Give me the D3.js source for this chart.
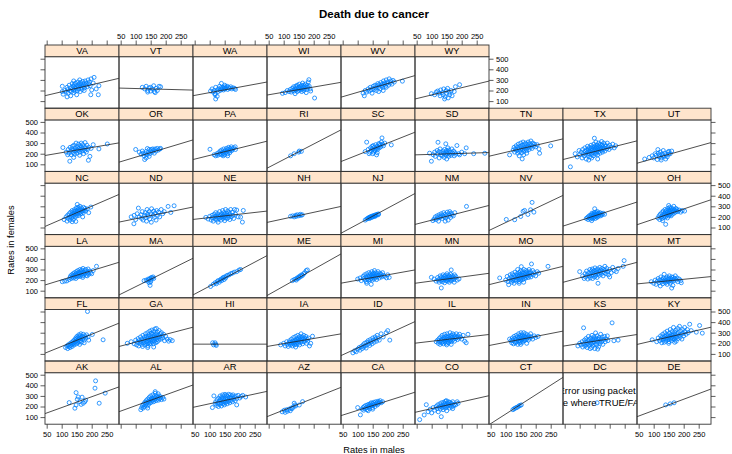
<!DOCTYPE html>
<html>
<head>
<meta charset="utf-8">
<script src="https://cdn.jsdelivr.net/npm/d3@7"></script>
<style>
  body { margin: 0; background: #fff; }
  text { font-family: "Liberation Sans", Arial, Helvetica, sans-serif; }
</style>
</head>
<body>
<svg id="chart" width="732" height="454"></svg>
<script>
// County cancer death rates (per 100,000): [rate in males, rate in females]
const AK = [[125,237],[144,184],[148,214],[148,331],[152,268],[155,290],[160,245],[165,220],[168,288],[172,231],[177,245],[180,260],[211,373],[213,442],[225,231],[245,326]];
const AL = [[117,170],[120,190],[123,210],[125,185],[127,225],[129,200],[131,240],[133,215],[135,255],[136,230],[138,205],[140,270],[141,245],[143,220],[145,285],[146,255],[148,235],[150,300],[151,265],[152,240],[154,280],[155,255],[157,310],[158,270],[160,245],[161,290],[163,265],[165,325],[166,280],[168,255],[170,300],[172,270],[174,285],[176,260],[178,300],[180,275],[183,290],[186,265],[190,285],[194,270],[165,340],[175,320],[140,185]];
const AR = [[109,190],[114,300],[118,225],[120,245],[123,210],[125,265],[127,230],[129,200],[130,280],[132,250],[133,220],[135,300],[136,265],[138,235],[139,205],[140,285],[141,255],[143,310],[144,225],[145,270],[146,245],[148,300],[149,215],[150,260],[151,315],[152,235],[154,280],[155,250],[156,305],[158,225],[159,270],[160,295],[161,245],[163,315],[164,260],[166,285],[167,235],[169,310],[170,255],[172,280],[174,300],[176,245],[178,310],[180,270],[182,290],[185,255],[188,300],[190,275],[195,305],[200,280],[205,295],[210,305],[220,290],[190,215]];
const AZ = [[95,150],[102,165],[105,145],[110,170],[112,155],[118,175],[122,160],[125,185],[128,180],[132,195],[135,231],[138,215],[140,205],[152,214],[163,246]];
const CA = [[100,190],[109,121],[115,175],[118,190],[120,165],[122,200],[125,180],[127,210],[129,190],[131,170],[133,215],[135,195],[137,220],[139,200],[140,180],[142,225],[144,205],[145,235],[147,210],[149,190],[150,230],[152,215],[154,240],[156,220],[158,200],[160,245],[162,225],[164,235],[166,215],[168,250],[170,230],[172,240],[175,255],[178,235],[183,245],[150,175],[135,160]];
const CO = [[60,76],[75,120],[82,217],[88,150],[95,175],[100,140],[105,190],[110,165],[115,200],[118,180],[120,215],[122,150],[125,195],[127,225],[129,175],[130,205],[132,104],[133,235],[135,190],[137,215],[138,170],[140,240],[141,200],[143,225],[145,185],[146,250],[147,210],[149,255],[150,195],[152,230],[154,205],[155,245],[157,220],[159,185],[160,240],[162,210],[164,230],[166,195],[168,225],[170,245],[173,205],[176,220],[180,215],[185,245],[188,230],[170,180],[150,160]];
const CT = [[124,170],[128,178],[132,185],[136,190],[140,195],[144,205],[148,210],[152,215]];
const DC = [[158,235]];
const DE = [[140,215],[155,225],[168,235]];
const FL = [[113,160],[118,175],[120,150],[122,185],[125,170],[127,195],[128,160],[130,180],[132,205],[134,190],[135,170],[137,215],[138,195],[140,225],[141,205],[142,185],[144,235],[145,210],[147,250],[148,220],[149,195],[150,240],[151,265],[152,225],[154,205],[155,255],[156,235],[157,280],[158,215],[160,245],[161,270],[162,225],[164,290],[165,250],[166,210],[168,265],[170,240],[172,285],[173,255],[175,230],[177,270],[180,250],[183,280],[186,500],[188,260],[190,230],[202,283],[238,233],[160,190],[175,205]];
const GA = [[72,200],[85,215],[95,195],[100,230],[103,185],[106,210],[108,245],[110,175],[112,225],[114,200],[116,260],[118,215],[120,190],[121,240],[123,170],[124,275],[126,225],[127,205],[129,255],[130,185],[131,235],[133,290],[134,215],[135,265],[137,195],[138,245],[139,225],[140,300],[141,175],[142,260],[143,210],[144,280],[145,235],[146,195],[147,315],[148,250],[149,220],[150,270],[151,200],[152,295],[153,240],[154,325],[155,215],[156,260],[157,285],[158,230],[159,195],[160,310],[161,250],[162,270],[163,220],[164,335],[165,245],[166,290],[167,205],[168,260],[169,340],[170,235],[171,280],[172,215],[173,305],[174,255],[176,275],[177,230],[178,320],[180,260],[182,290],[184,240],[186,300],[188,270],[190,250],[193,285],[196,225],[200,265],[205,240],[210,220],[215,235],[222,225],[140,160],[160,165]];
const HI = [[110,205],[113,185],[118,205],[120,190],[122,180]];
const IA = [[90,185],[100,200],[105,175],[110,215],[112,190],[115,170],[118,205],[120,225],[122,185],[124,210],[126,240],[127,195],[129,175],[130,220],[132,200],[133,255],[135,215],[136,185],[138,230],[139,205],[140,265],[141,220],[143,190],[144,240],[145,210],[147,275],[148,230],[149,200],[150,250],[151,220],[153,185],[154,265],[155,235],[157,210],[158,290],[159,245],[160,220],[162,260],[163,195],[165,240],[167,275],[168,215],[170,250],[172,230],[174,265],[176,200],[178,240],[180,220],[183,250],[186,175],[190,200],[196,267],[140,165]];
const ID = [[84,110],[90,130],[95,120],[100,145],[105,160],[108,135],[112,170],[115,150],[118,185],[120,165],[123,200],[125,175],[128,155],[130,210],[133,190],[135,225],[138,200],[140,180],[142,235],[145,215],[148,195],[150,250],[152,230],[155,210],[158,260],[160,240],[163,220],[165,275],[168,250],[172,230],[178,290],[185,260],[195,300],[207,230],[200,320]];
const IL = [[115,215],[120,230],[122,200],[125,245],[127,215],[128,190],[130,260],[131,230],[133,205],[135,275],[136,240],[137,215],[139,195],[140,255],[141,230],[143,285],[144,210],[145,245],[146,225],[148,265],[149,200],[150,240],[151,290],[152,220],[154,255],[155,235],[156,205],[157,270],[158,245],[160,225],[161,300],[162,260],[163,235],[165,215],[166,275],[167,250],[169,230],[170,290],[171,260],[173,240],[175,280],[176,220],[178,265],[180,245],[182,290],[184,255],[186,235],[188,270],[190,250],[193,285],[196,260],[200,240],[205,275],[210,220],[215,205],[221,285],[150,185],[165,190]];
const IN = [[113,240],[118,225],[120,205],[122,250],[124,230],[126,195],[128,265],[130,215],[131,245],[133,205],[135,275],[136,235],[137,215],[139,260],[140,190],[141,240],[143,290],[144,225],[145,255],[147,205],[148,275],[149,240],[150,220],[151,300],[152,260],[154,235],[155,280],[156,210],[157,255],[158,240],[160,300],[161,225],[162,270],[164,250],[165,230],[166,290],[168,260],[170,240],[172,280],[174,255],[176,230],[178,270],[180,250],[183,290],[186,260],[190,240],[195,270],[200,255],[208,265],[170,200],[150,190]];
const KS = [[94,175],[100,200],[105,185],[108,215],[110,165],[113,346],[114,195],[116,230],[118,175],[120,210],[121,245],[123,190],[125,160],[126,225],[128,200],[129,265],[131,180],[132,235],[134,210],[135,150],[137,250],[138,195],[140,225],[141,275],[143,205],[144,240],[145,180],[147,260],[148,215],[150,235],[150,150],[152,195],[153,298],[154,250],[156,225],[157,185],[158,270],[160,210],[161,240],[163,165],[165,255],[166,220],[168,200],[170,285],[171,240],[173,215],[175,260],[177,190],[180,235],[183,265],[185,215],[188,240],[192,270],[194,225],[208,393],[214,224],[228,230],[160,145],[140,160]];
const KY = [[95,233],[110,215],[115,250],[120,225],[123,270],[125,240],[127,205],[129,260],[130,285],[132,230],[134,250],[135,210],[137,300],[138,265],[140,240],[141,220],[143,280],[144,255],[145,315],[147,235],[148,270],[150,250],[151,215],[152,295],[154,265],[155,330],[156,240],[158,280],[159,255],[160,225],[161,310],[162,270],[164,245],[165,290],[166,350],[168,260],[169,235],[170,305],[171,280],[173,255],[174,325],[175,220],[177,290],[178,265],[180,340],[181,245],[183,300],[185,275],[186,360],[188,255],[190,315],[192,285],[194,240],[196,330],[198,295],[200,270],[203,350],[205,310],[208,285],[212,330],[215,300],[220,380],[225,320],[242,305],[253,368],[262,296],[150,200],[170,210]];
const LA = [[102,185],[110,190],[117,192],[125,205],[128,225],[130,240],[132,215],[134,250],[136,230],[138,260],[140,220],[141,245],[143,270],[144,235],[146,255],[147,215],[149,280],[150,245],[151,265],[153,230],[154,290],[155,255],[157,240],[158,275],[160,260],[161,300],[162,235],[164,280],[165,250],[167,295],[168,265],[170,240],[171,310],[173,275],[175,255],[176,290],[178,265],[180,300],[182,245],[184,280],[186,265],[188,305],[190,255],[193,285],[196,270],[200,260],[205,290],[216,330],[185,240],[170,225]];
const MA = [[128,195],[135,200],[140,190],[142,210],[145,205],[148,215],[150,200],[152,225],[155,220],[158,230],[160,215],[145,175],[148,150],[150,185]];
const MD = [[103,140],[112,160],[118,175],[122,165],[125,185],[128,195],[132,180],[135,200],[138,210],[140,195],[143,215],[145,225],[148,205],[150,230],[153,220],[156,240],[160,245],[165,250],[170,260],[175,265],[182,275],[190,280],[198,295],[203,300]];
const ME = [[129,195],[135,205],[140,210],[142,200],[145,220],[148,215],[150,230],[152,225],[155,240],[158,235],[160,250],[163,245],[167,260],[170,270],[175,290],[179,296]];
const MI = [[100,210],[108,220],[112,195],[118,235],[120,215],[123,250],[125,200],[127,230],[129,185],[130,260],[132,215],[134,240],[135,200],[137,270],[138,225],[140,245],[141,205],[143,260],[144,230],[145,215],[147,280],[148,240],[149,200],[150,255],[151,225],[153,265],[154,235],[155,210],[156,290],[158,250],[159,225],[160,270],[162,240],[163,205],[165,260],[166,230],[168,280],[170,245],[172,220],[174,265],[176,240],[178,255],[180,230],[183,270],[186,245],[190,235],[196,221],[200,250],[130,170],[145,160],[205,225]];
const MN = [[99,226],[108,210],[115,190],[120,225],[122,200],[125,180],[127,215],[128,240],[130,195],[132,126],[133,230],[135,205],[136,185],[138,250],[139,220],[140,200],[142,235],[143,175],[145,215],[146,245],[148,195],[149,225],[150,210],[151,260],[153,190],[154,230],[155,205],[156,245],[158,215],[159,180],[160,235],[161,200],[163,255],[164,220],[165,296],[166,195],[168,240],[170,215],[172,230],[174,205],[176,250],[178,220],[180,235],[185,200],[191,211],[175,180]];
const MO = [[80,220],[100,200],[105,235],[108,185],[110,157],[112,215],[115,250],[117,200],[119,230],[120,180],[122,260],[124,215],[125,195],[127,245],[128,170],[130,225],[131,275],[133,205],[134,240],[135,190],[137,260],[138,220],[140,300],[140,245],[141,200],[143,230],[144,270],[145,185],[146,250],[147,215],[149,285],[150,235],[150,200],[152,327],[152,260],[153,220],[155,245],[156,280],[157,205],[158,265],[160,230],[161,300],[162,250],[163,215],[165,270],[166,240],[167,290],[168,220],[170,260],[171,235],[173,280],[174,250],[176,225],[178,300],[179,265],[180,245],[182,280],[184,230],[186,352],[187,260],[190,290],[192,250],[195,270],[200,240],[205,280],[210,265],[241,330],[160,180],[145,170]];
const MS = [[100,280],[110,240],[115,215],[118,260],[120,230],[123,285],[125,250],[127,210],[130,270],[132,240],[134,300],[135,220],[137,260],[139,285],[140,240],[142,305],[143,215],[145,270],[146,250],[148,290],[150,230],[151,315],[152,265],[154,245],[155,295],[157,275],[158,225],[160,305],[161,170],[162,260],[164,285],[165,245],[167,320],[168,270],[170,295],[172,255],[174,310],[176,280],[178,240],[180,300],[182,270],[184,330],[186,290],[188,260],[190,310],[193,280],[196,250],[200,300],[205,270],[210,320],[215,290],[222,280],[228,310],[245,330],[248,384],[200,230]];
const MT = [[92,185],[100,170],[105,200],[108,160],[112,190],[115,215],[118,175],[120,200],[122,145],[124,230],[126,185],[128,205],[130,165],[132,220],[134,190],[135,255],[137,200],[139,175],[140,215],[142,190],[144,230],[145,160],[147,205],[149,185],[150,220],[152,240],[154,195],[155,170],[157,215],[159,190],[160,230],[162,205],[164,150],[165,225],[167,195],[170,215],[172,240],[175,200],[178,220],[180,185],[185,210],[190,195],[192,175],[160,125]];
const NC = [[108,175],[115,200],[118,160],[120,215],[122,185],[125,230],[127,200],[128,170],[130,245],[132,215],[133,190],[135,260],[136,230],[138,205],[139,175],[140,250],[141,220],[143,270],[144,235],[145,200],[146,255],[148,225],[149,285],[150,240],[151,210],[152,265],[154,230],[155,290],[156,250],[157,215],[158,275],[160,240],[161,300],[162,260],[164,230],[165,285],[167,250],[152,318],[170,265],[172,240],[173,290],[175,260],[178,280],[180,255],[185,275],[190,240],[197,293],[147,157],[170,200],[135,155]];
const ND = [[85,200],[95,215],[100,175],[105,230],[109,283],[112,200],[94,135],[118,220],[120,185],[122,250],[125,170],[130,215],[132,240],[134,195],[136,160],[138,270],[140,225],[142,205],[145,250],[147,180],[150,230],[152,150],[153,277],[158,215],[160,255],[162,195],[165,235],[168,170],[170,260],[173,215],[176,245],[180,200],[185,270],[190,230],[195,250],[208,299],[217,242],[228,305]];
const NE = [[87,195],[95,180],[100,205],[105,170],[108,215],[110,190],[112,160],[115,225],[117,200],[119,180],[120,240],[122,210],[124,170],[125,195],[127,230],[128,150],[130,205],[132,185],[133,250],[135,215],[137,195],[138,170],[140,230],[141,205],[143,260],[144,185],[145,215],[147,240],[148,200],[150,165],[150,225],[152,190],[153,270],[155,210],[157,235],[158,185],[160,255],[161,215],[163,195],[165,240],[167,175],[168,220],[170,270],[172,200],[175,245],[178,215],[180,185],[183,270],[186,225],[190,265],[195,200],[203,198],[212,261],[209,151]];
const NH = [[123,205],[130,210],[135,200],[140,215],[142,205],[145,220],[150,210],[155,225],[158,215],[162,220]];
const NJ = [[125,170],[130,180],[133,185],[136,190],[138,195],[140,185],[142,200],[145,205],[147,195],[150,210],[152,205],[155,215],[157,210],[160,220],[162,215],[165,225],[168,220],[150,200],[140,192],[158,205],[170,228]];
const NM = [[104,165],[108,180],[112,200],[115,175],[118,210],[120,190],[123,160],[125,220],[128,195],[130,205],[132,230],[135,185],[137,215],[140,240],[142,200],[145,225],[147,190],[150,210],[152,245],[155,170],[157,230],[160,215],[163,195],[165,235],[168,220],[172,210],[177,240],[216,299],[145,160],[160,250]];
const NV = [[102,176],[130,173],[150,204],[158,252],[163,261],[174,223],[183,267],[188,337],[194,245]];
const NY = [[122,185],[126,195],[128,175],[130,205],[132,190],[134,215],[136,180],[138,200],[139,220],[140,190],[141,235],[143,205],[144,185],[145,225],[146,210],[147,195],[148,240],[149,215],[150,200],[151,230],[152,185],[153,220],[154,245],[155,205],[156,215],[157,230],[158,195],[159,250],[160,220],[162,205],[163,235],[164,215],[166,225],[168,240],[170,210],[172,230],[175,220],[178,235],[183,225],[150,277],[140,165]];
const OH = [[114,190],[118,210],[120,175],[122,225],[125,200],[127,240],[128,185],[130,215],[132,255],[133,195],[135,230],[136,210],[138,270],[139,245],[140,200],[141,225],[143,260],[144,215],[145,240],[146,190],[147,280],[148,230],[149,250],[150,210],[151,265],[152,235],[153,290],[154,220],[155,250],[156,270],[157,235],[158,210],[159,285],[160,245],[161,260],[162,225],[164,275],[165,250],[167,300],[168,235],[170,265],[172,245],[174,280],[176,255],[178,270],[180,250],[185,265],[190,245],[195,260],[203,255],[140,130],[130,165],[150,308]];
const OK = [[104,258],[115,215],[120,190],[122,240],[125,205],[127,129],[128,260],[130,225],[132,190],[134,245],[136,270],[138,210],[140,235],[141,280],[143,195],[145,255],[146,225],[148,300],[150,240],[151,205],[153,265],[155,230],[156,290],[158,250],[160,215],[161,275],[163,240],[165,300],[166,260],[168,225],[170,285],[171,245],[173,200],[175,265],[177,230],[178,305],[180,255],[182,215],[184,280],[186,240],[189,138],[190,260],[194,175],[198,250],[205,285],[224,245],[252,292],[160,185],[140,165]];
const OR = [[100,240],[112,215],[118,195],[122,225],[125,205],[128,180],[130,145],[132,200],[135,220],[138,190],[139,249],[142,210],[145,240],[147,200],[150,225],[152,240],[155,215],[157,245],[160,230],[162,205],[165,245],[168,225],[172,250],[176,235],[180,245],[183,250],[135,160],[145,175]];
const PA = [[101,242],[115,190],[120,180],[124,200],[127,185],[130,210],[133,195],[135,225],[137,205],[140,190],[140,235],[143,215],[145,200],[147,245],[149,220],[150,190],[152,230],[154,210],[156,250],[158,225],[160,200],[161,240],[163,260],[165,225],[167,210],[168,250],[170,235],[172,265],[174,230],[176,245],[180,255],[185,265],[186,240],[145,180],[160,180]];
const RI = [[123,180],[135,200],[150,215],[152,225],[159,222]];
const SC = [[125,220],[130,309],[135,240],[138,200],[141,214],[143,255],[145,230],[148,270],[150,245],[152,277],[153,215],[155,260],[157,235],[158,229],[160,285],[162,250],[163,189],[165,270],[166,240],[168,264],[170,295],[172,255],[173,293],[175,280],[177,265],[179,310],[181,349],[183,290],[186,275],[190,300],[212,283],[150,200],[165,210]];
const SD = [[93,205],[99,129],[105,190],[110,215],[112,175],[118,230],[120,200],[121,308],[125,160],[125,220],[128,245],[130,190],[132,210],[135,180],[138,225],[140,205],[142,165],[143,240],[145,195],[147,293],[147,215],[148,185],[150,230],[150,150],[152,200],[154,255],[155,215],[157,175],[158,235],[160,195],[162,215],[165,185],[167,245],[170,205],[173,225],[175,180],[178,210],[180,195],[184,277],[190,200],[193,189],[200,215],[210,200],[215,255],[240,200],[277,204]];
const TN = [[113,189],[125,235],[128,260],[130,215],[133,245],[135,275],[137,230],[140,205],[140,260],[142,290],[144,245],[146,220],[148,270],[150,300],[150,235],[152,255],[154,210],[155,280],[155,151],[157,240],[158,310],[160,260],[161,225],[163,285],[165,245],[166,300],[168,265],[170,230],[171,290],[173,255],[175,310],[177,270],[178,240],[180,295],[182,260],[184,320],[186,280],[188,250],[190,300],[193,270],[196,290],[200,265],[205,285],[211,245],[213,204],[250,274],[160,190],[145,180],[170,205]];
const TX = [[69,76],[85,200],[92,170],[98,230],[100,190],[105,215],[108,160],[110,240],[112,200],[115,180],[117,255],[118,220],[120,195],[122,150],[123,235],[125,210],[126,270],[128,185],[129,245],[130,225],[131,200],[133,260],[134,170],[135,235],[136,215],[138,280],[139,250],[140,195],[141,230],[143,265],[144,210],[145,240],[146,180],[147,290],[148,255],[150,225],[150,205],[151,270],[152,245],[153,195],[154,310],[155,260],[156,230],[157,215],[158,280],[159,250],[160,190],[161,265],[162,235],[163,300],[164,220],[165,255],[166,275],[167,240],[168,205],[169,290],[170,260],[172,230],[173,315],[174,250],[175,280],[176,215],[178,265],[179,240],[180,300],[182,255],[184,225],[185,285],[187,270],[190,245],[192,300],[195,265],[198,240],[200,280],[205,260],[210,290],[215,255],[220,275],[149,346],[140,160],[160,150],[130,140]];
const UT = [[70,150],[85,165],[95,180],[100,160],[105,200],[108,185],[112,145],[114,239],[115,205],[118,170],[120,190],[122,215],[125,160],[128,195],[130,180],[132,230],[135,175],[137,205],[140,150],[142,190],[145,170],[148,215],[150,195],[151,223],[155,200],[160,225],[125,140]];
const VA = [[105,165],[110,200],[115,185],[118,230],[120,210],[122,175],[125,250],[128,200],[130,225],[132,190],[135,265],[136,215],[138,240],[140,180],[140,205],[142,255],[144,230],[145,195],[146,270],[148,220],[150,245],[150,160],[152,200],[154,280],[155,235],[157,215],[158,260],[160,245],[162,190],[163,275],[165,230],[166,255],[168,210],[170,285],[172,240],[174,265],[176,225],[178,290],[180,250],[182,270],[185,235],[188,300],[190,260],[192,280],[195,245],[198,310],[205,270],[215,215],[200,205],[175,200],[130,150],[118,140],[160,300],[140,290],[224,245],[222,160],[197,160],[208,324],[102,240],[102,190]];
const VT = [[122,230],[130,215],[135,240],[140,200],[145,225],[150,195],[150,230],[155,215],[160,245],[162,190],[168,220],[172,200],[178,240],[183,235],[165,180],[140,185]];
const WA = [[103,195],[108,215],[112,185],[115,200],[118,170],[120,230],[125,205],[128,190],[130,215],[133,240],[135,200],[138,225],[140,210],[139,267],[144,230],[146,205],[148,220],[150,235],[152,215],[155,225],[158,240],[160,210],[163,230],[166,220],[170,235],[174,215],[178,225],[183,220],[186,210],[125,145],[118,160],[120,120],[150,250]];
const WI = [[96,173],[105,180],[112,200],[118,190],[122,210],[125,185],[128,220],[130,200],[133,235],[135,195],[137,215],[140,205],[140,240],[142,225],[145,190],[145,250],[147,215],[150,230],[150,200],[152,260],[153,215],[155,240],[157,205],[158,225],[160,250],[162,215],[163,270],[165,230],[167,200],[168,245],[170,220],[172,260],[174,235],[176,210],[178,250],[180,230],[182,280],[184,302],[185,240],[188,215],[190,195],[203,129],[175,180],[160,190],[138,170]];
const WV = [[118,175],[122,150],[125,200],[130,185],[135,215],[138,195],[142,230],[145,205],[148,175],[150,220],[152,240],[155,210],[158,250],[160,225],[162,200],[165,245],[167,265],[170,230],[172,255],[175,215],[177,275],[180,245],[182,260],[184,230],[186,290],[188,255],[190,270],[192,240],[195,300],[197,265],[200,280],[203,250],[205,310],[208,270],[210,290],[214,260],[218,295],[222,280],[249,288],[195,230],[185,200],[170,190]];
const WY = [[99,170],[110,160],[115,185],[120,195],[125,175],[128,150],[130,205],[135,180],[138,160],[140,215],[143,120],[145,140],[148,200],[150,175],[153,220],[155,130],[158,185],[160,160],[165,200],[168,150],[175,190],[179,236],[193,255]];

// Panels in lattice order (bottom-left first, left to right, upwards)
const states = ["AK","AL","AR","AZ","CA","CO","CT","DC","DE",
                "FL","GA","HI","IA","ID","IL","IN","KS","KY",
                "LA","MA","MD","ME","MI","MN","MO","MS","MT",
                "NC","ND","NE","NH","NJ","NM","NV","NY","OH",
                "OK","OR","PA","RI","SC","SD","TN","TX","UT",
                "VA","VT","WA","WI","WV","WY"];
const stateRates = [AK,AL,AR,AZ,CA,CO,CT,DC,DE,
                    FL,GA,HI,IA,ID,IL,IN,KS,KY,
                    LA,MA,MD,ME,MI,MN,MO,MS,MT,
                    NC,ND,NE,NH,NJ,NM,NV,NY,OH,
                    OK,OR,PA,RI,SC,SD,TN,TX,UT,
                    VA,VT,WA,WI,WV,WY];

// Least-squares fit per state (female = intercept + slope * male); null where the fit failed
const lmIntercept = [87.6,105.6,164.8,54.1,74.2,116.7,-52.5,null,57,
                     56,137.2,192,148.6,26.2,186.2,154.5,153.2,159.7,
                     115.5,-2.3,-6.8,-16.8,148.5,153.1,125.8,145,151.6,
                     55.6,125.4,161.8,120.8,-21.5,96.8,12.4,72.1,83.5,
                     161.6,82.2,113.8,-2.2,76.1,185,146.5,113.3,74.9,
                     121.5,226.4,127.8,135.4,100.3,89.6];
const lmSlope = [1.022,1.022,0.612,1.123,0.896,0.637,1.813,null,1.058,
                 1.148,0.738,0,0.483,1.302,0.333,0.552,0.446,0.661,
                 0.868,1.403,1.504,1.594,0.507,0.381,0.702,0.766,0.28,
                 1.225,0.576,0.32,0.612,1.521,0.726,1.342,0.921,0.957,
                 0.483,0.852,0.702,1.468,1.123,0.089,0.665,0.714,0.791,
                 0.665,-0.077,0.523,0.487,0.827,0.685];

const xLimits = [44.4, 291];
const yLimits = [33, 519];
const xTicks = [50, 100, 150, 200, 250];
const yTicks = [100, 200, 300, 400, 500];
const errorLines = ["Error using packet 8", "missing value where TRUE/FALSE needed"];

// Layout
const nCols = 9, nRows = 6;
const left0 = 45, panelW = 74;
const top0 = 56.7, period = 63.2, stripH = 11.7, panelH = 51.5;
const tickLen = 4.5;
const pointCol = "#0080ff", stripCol = "#ffe5cc", frameCol = "#333";

const svg = d3.select("#chart");
svg.append("rect").attr("width", 732).attr("height", 454).attr("fill", "#fff");

const colX = c => left0 + c * panelW;
const rowTop = r => top0 + r * period; // r = 0 at top

const xScaleFor = c => d3.scaleLinear().domain(xLimits).range([colX(c), colX(c) + panelW]);
const yScaleFor = r => d3.scaleLinear().domain(yLimits).range([rowTop(r) + panelH, rowTop(r)]);

const defs = svg.append("defs");

function styleAxis(g, withLabels) {
  g.select(".domain").remove();
  g.selectAll(".tick line").attr("stroke", frameCol).attr("stroke-width", 0.8);
  g.selectAll(".tick text").attr("font-size", 7.5).attr("fill", "#000")
    .attr("font-family", '"Liberation Sans", Arial, sans-serif');
  if (!withLabels) g.selectAll(".tick text").remove();
}

states.forEach((st, i) => {
  const col = i % nCols;
  const rowFromBottom = Math.floor(i / nCols);
  const r = nRows - 1 - rowFromBottom;
  const x = xScaleFor(col), y = yScaleFor(r);
  const px = colX(col), py = rowTop(r);

  const clipId = "clip-" + st;
  defs.append("clipPath").attr("id", clipId)
    .append("rect").attr("x", px).attr("y", py).attr("width", panelW).attr("height", panelH);

  const g = svg.append("g");
  const inner = g.append("g").attr("clip-path", `url(#${clipId})`);

  inner.selectAll("circle").data(stateRates[i]).join("circle")
    .attr("cx", d => x(d[0])).attr("cy", d => y(d[1])).attr("r", 2)
    .attr("fill", "none").attr("stroke", pointCol).attr("stroke-width", 0.8);

  if (lmIntercept[i] !== null) {
    const a = lmIntercept[i], b = lmSlope[i];
    inner.append("line")
      .attr("x1", x(xLimits[0])).attr("y1", y(a + b * xLimits[0]))
      .attr("x2", x(xLimits[1])).attr("y2", y(a + b * xLimits[1]))
      .attr("stroke", "#222").attr("stroke-width", 0.8);
  } else {
    // the regression step failed for this panel: show the error message in it
    const cx = px + panelW / 2 + 1, cy = py + panelH / 2;
    errorLines.forEach((t, k) => {
      inner.append("text").attr("x", cx).attr("y", cy - 4.5 + k * 12.3)
        .attr("text-anchor", "middle").attr("font-size", 9.5).attr("fill", "#000").text(t);
    });
  }

  // panel frame
  g.append("rect").attr("x", px).attr("y", py).attr("width", panelW).attr("height", panelH)
    .attr("fill", "none").attr("stroke", frameCol).attr("stroke-width", 0.9);

  // strip
  g.append("rect").attr("x", px).attr("y", py - stripH).attr("width", panelW).attr("height", stripH)
    .attr("fill", stripCol).attr("stroke", frameCol).attr("stroke-width", 0.9);
  g.append("text").attr("x", px + panelW / 2).attr("y", py - stripH / 2 + 3.3)
    .attr("text-anchor", "middle").attr("font-size", 9.3).attr("fill", "#000").text(st);

  // axes: alternating labels as in lattice
  const isLastInRow = col === nCols - 1 || i === states.length - 1;
  const labelRow = rowFromBottom % 2 === 0;
  if (col === 0) {
    const ax = svg.append("g").attr("transform", `translate(${px},0)`)
      .call(d3.axisLeft(y).tickValues(yTicks).tickSize(tickLen).tickPadding(2.5));
    styleAxis(ax, labelRow);
  }
  if (isLastInRow) {
    const ax = svg.append("g").attr("transform", `translate(${px + panelW},0)`)
      .call(d3.axisRight(y).tickValues(yTicks).tickSize(tickLen).tickPadding(2.5));
    styleAxis(ax, !labelRow);
  }
  if (rowFromBottom === 0) {
    const ax = svg.append("g").attr("transform", `translate(0,${py + panelH})`)
      .call(d3.axisBottom(x).tickValues(xTicks).tickSize(tickLen).tickPadding(2.5));
    styleAxis(ax, col % 2 === 0);
  }
  if (r === 0) {
    const ax = svg.append("g").attr("transform", `translate(0,${py - stripH})`)
      .call(d3.axisTop(x).tickValues(xTicks).tickSize(tickLen).tickPadding(2));
    styleAxis(ax, col % 2 === 1);
  }
});

// titles
svg.append("text").attr("x", 374).attr("y", 18).attr("text-anchor", "middle")
  .attr("font-size", 11.5).attr("font-weight", "bold").attr("fill", "#000").text("Death due to cancer");
svg.append("text").attr("x", 374).attr("y", 453).attr("text-anchor", "middle")
  .attr("font-size", 9.3).attr("fill", "#000").text("Rates in males");
svg.append("text").attr("transform", "translate(14,240) rotate(-90)").attr("text-anchor", "middle")
  .attr("font-size", 9.3).attr("fill", "#000").text("Rates in females");
</script>
</body>
</html>
